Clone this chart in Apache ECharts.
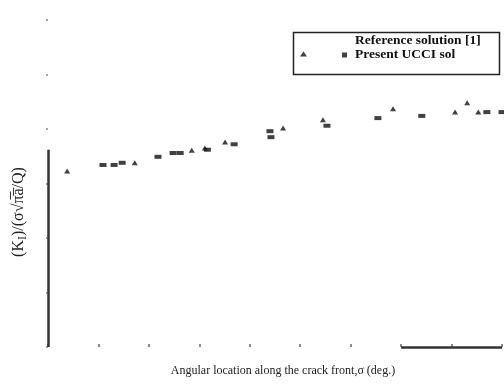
<!DOCTYPE html>
<html>
<head>
<meta charset="utf-8">
<script src="https://cdn.jsdelivr.net/npm/echarts@6/dist/echarts.min.js"></script>
<style>
  html, body { margin: 0; padding: 0; background: #fff; }
  #chart { width: 504px; height: 384px; }
</style>
</head>
<body>
<div id="chart"></div>
<script>
// Normalised stress intensity factor along the crack front (angle in degrees)
const referenceAngle = [3.8, 17.2, 28.5, 31.1, 35.1, 46.6, 54.5, 68.4, 80.7, 83.1, 85.3];
const referenceKI    = [0.823, 0.838, 0.861, 0.865, 0.876, 0.902, 0.917, 0.937, 0.931, 0.948, 0.931];

const uccAngle = [10.9, 13.1, 14.7, 21.8, 24.8, 26.2, 31.6, 36.9, 44.0, 44.2, 55.3, 65.4, 74.1, 87.0, 90.0];
const uccKI    = [0.834, 0.834, 0.838, 0.849, 0.856, 0.856, 0.862, 0.872, 0.896, 0.885, 0.906, 0.920, 0.924, 0.931, 0.931];

const xTicks = { min: 0, max: 90, interval: 10 };
const yTicks = { min: 0.5, max: 1.1, interval: 0.1 };

// Visible fragments of the axis frame
const leftFrame   = [[0, 0.5], [0, 0.862]];
const bottomFrame = [[70, 0.5], [90, 0.5]];

const seriesNames = ['Reference solution [1]', 'Present UCCI sol'];

const pair = (xs, ys) => xs.map((x, i) => [x, ys[i]]);
const ink = '#111';
const serif = 'Liberation Serif';

const chart = echarts.init(document.getElementById('chart'), null, { renderer: 'canvas' });
chart.setOption({
  backgroundColor: '#fff',
  animation: false,
  grid: { left: 48, right: 2, top: 20, bottom: 37 },
  xAxis: {
    type: 'value', min: xTicks.min, max: xTicks.max, interval: xTicks.interval,
    axisLine: { show: false },
    axisTick: { show: true, inside: true, length: 3, lineStyle: { color: '#666', width: 1.5 } },
    axisLabel: { show: false },
    splitLine: { show: false },
    name: 'Angular location along the crack front,σ (deg.)',
    nameLocation: 'middle', nameGap: 18,
    nameTextStyle: { fontFamily: serif, fontSize: 12, color: '#222', padding: [0, 0, 0, 16] }
  },
  yAxis: {
    type: 'value', min: yTicks.min, max: yTicks.max, interval: yTicks.interval,
    axisLine: { show: false },
    axisTick: { show: true, inside: false, length: 2, lineStyle: { color: '#888', width: 1.5 } },
    axisLabel: { show: false },
    splitLine: { show: false }
  },
  legend: [
    {
      // icon sits on the second row; its label is lifted to the first row
      data: [{ name: seriesNames[0], icon: 'triangle' }],
      left: 300, top: 34, itemWidth: 7, itemHeight: 5, padding: 0,
      selectedMode: false,
      formatter: (name) => name + '\n\n',
      textStyle: { fontFamily: serif, fontWeight: 'bold', fontSize: 13.5, lineHeight: 13, color: ink, padding: [0, 0, 0, 43] }
    },
    {
      data: [{ name: seriesNames[1], icon: 'rect' }],
      left: 342, top: 48, itemWidth: 5, itemHeight: 5, padding: 0,
      selectedMode: false,
      textStyle: { fontFamily: serif, fontWeight: 'bold', fontSize: 13.5, color: ink, padding: [0, 0, 0, 3] }
    }
  ],
  graphic: [
    {
      type: 'rect', left: 291, top: 30, silent: true,
      shape: { width: 206, height: 42 },
      style: { fill: 'none', stroke: '#222', lineWidth: 1.5 }
    },
    {
      type: 'text', x: 19, y: 212, rotation: Math.PI / 2, silent: true,
      style: {
        text: '(K{sub|I})/(σ√π̅a̅/Q)',
        fontFamily: serif, fontSize: 16, fill: '#222',
        align: 'center', verticalAlign: 'middle',
        rich: { sub: { fontFamily: serif, fontSize: 12, fill: '#222', verticalAlign: 'bottom', padding: [7, 0, 0, 0] } }
      }
    }
  ],
  series: [
    {
      name: seriesNames[0], type: 'scatter',
      symbol: 'triangle', symbolSize: [6, 5],
      itemStyle: { color: ink },
      data: pair(referenceAngle, referenceKI),
      markLine: {
        silent: true, symbol: 'none', label: { show: false },
        lineStyle: { color: '#333', width: 2.5, type: 'solid' },
        data: [
          [{ coord: leftFrame[0] }, { coord: leftFrame[1] }],
          [{ coord: bottomFrame[0] }, { coord: bottomFrame[1] }]
        ]
      }
    },
    {
      name: seriesNames[1], type: 'scatter',
      symbol: 'rect', symbolSize: [7, 4],
      itemStyle: { color: ink },
      data: pair(uccAngle, uccKI)
    }
  ]
});
</script>
</body>
</html>
